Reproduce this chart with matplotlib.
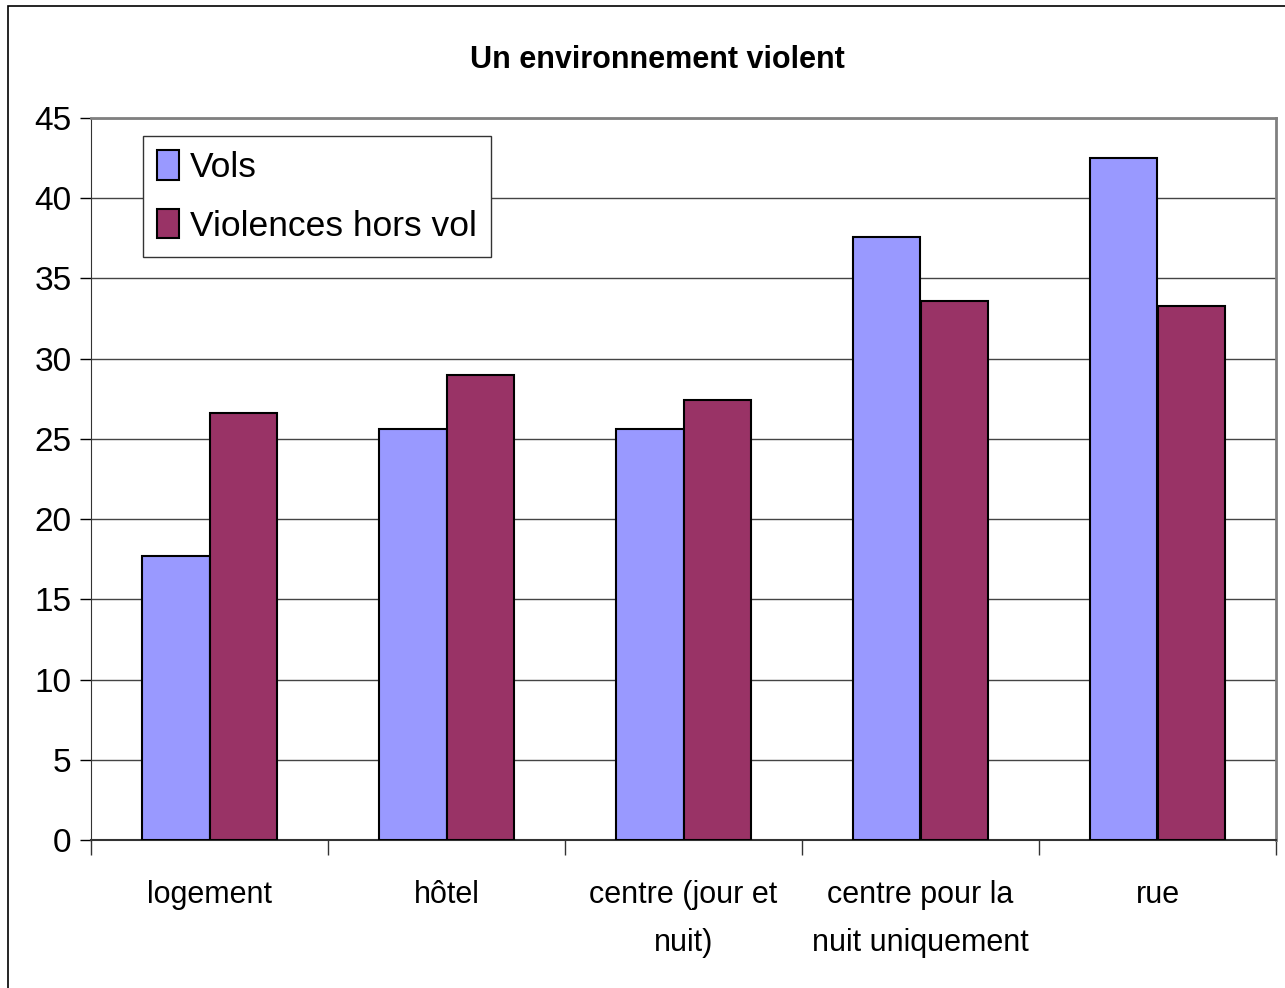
import numpy as np
import matplotlib.pyplot as plt
from matplotlib.patches import Rectangle

categories = ["logement", "hôtel", "centre (jour et\nnuit)", "centre pour la\nnuit uniquement", "rue"]
vols = [17.7, 25.6, 25.6, 37.6, 42.5]
violences = [26.6, 29.0, 27.4, 33.6, 33.3]
series_names = ["Vols", "Violences hors vol"]
yticks = [0, 5, 10, 15, 20, 25, 30, 35, 40, 45]

plt.rcParams['font.family'] = ['Liberation Sans', 'DejaVu Sans']

fig = plt.figure(figsize=(12.85, 9.88), dpi=100)
ax = fig.add_axes([91/1285, 1 - 840/988, (1276 - 91)/1285, (840 - 118)/988])

# outer chart frame (right/bottom cut off in the original)
fig.patches.append(Rectangle((8/1285, -0.01), 1.05, 1 - 6/988 + 0.01, transform=fig.transFigure,
                             fill=False, edgecolor='black', linewidth=1.2))

x = np.arange(len(categories))
w = 0.283
ax.bar(x - w/2, vols, w, color='#9999ff', edgecolor='black', linewidth=1.5, label=series_names[0], zorder=3)
ax.bar(x + w/2, violences, w, color='#993366', edgecolor='black', linewidth=1.5, label=series_names[1], zorder=3)

ax.set_xlim(-0.5, len(categories) - 0.5)
ax.set_ylim(0, 45)
ax.set_yticks(yticks)
ax.set_yticklabels([str(v) for v in yticks], fontsize=24)
ax.yaxis.grid(True, color='#444444', linewidth=1.0, zorder=0)
ax.set_axisbelow(True)

# category labels between boundary ticks
ax.set_xticks(np.arange(-0.5, len(categories)), minor=False)
ax.set_xticklabels([])
ax.set_xticks(x, minor=True)
ax.set_xticklabels(categories, minor=True, fontsize=22, linespacing=1.75)
ax.tick_params(axis='x', which='minor', length=0, pad=29)
ax.tick_params(axis='x', which='major', length=11, width=1.0, color='#333333', direction='out')
ax.tick_params(axis='y', length=8, width=1.0, direction='out', pad=6)

for s in ['top', 'right']:
    ax.spines[s].set_color('#808080')
    ax.spines[s].set_linewidth(2)
ax.spines['left'].set_color('#333333')
ax.spines['bottom'].set_color('#333333')
ax.spines['bottom'].set_linewidth(1.5)

leg = ax.legend(loc='upper left', bbox_to_anchor=(52/1185, 1 - 18/722), fontsize=25.5, frameon=True,
                fancybox=False, edgecolor='#333333', framealpha=1, handlelength=0.62, handleheight=0.9,
                handletextpad=0.3, borderpad=0.4, labelspacing=0.7, borderaxespad=0)
leg.get_frame().set_linewidth(1.0)

fig.text(657/1285, 1 - 60/988, "Un environnement violent", ha='center', va='center',
         fontsize=22, fontweight='bold')

fig.savefig("out.png", dpi=100)
